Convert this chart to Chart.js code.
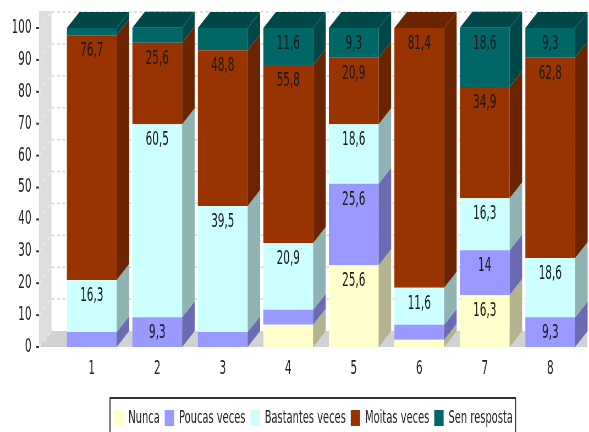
<!DOCTYPE html>
<html>
<head>
<meta charset="utf-8">
<style>
  html, body { margin: 0; padding: 0; background: #fff; overflow: hidden; }
  canvas { display: block; }
</style>
<script src="https://cdn.jsdelivr.net/npm/chart.js@4"></script>
</head>
<body>
<canvas id="chart" width="1071" height="432" style="width:589px;height:432px"></canvas>
<script>
const categories = ["1", "2", "3", "4", "5", "6", "7", "8"];
const nunca = [0, 0, 0, 7, 25.6, 2.3, 16.3, 0];
const poucasVeces = [4.7, 9.3, 4.7, 4.7, 25.6, 4.7, 14, 9.3];
const bastantesVeces = [16.3, 60.5, 39.5, 20.9, 18.6, 11.6, 16.3, 18.6];
const moitasVeces = [76.7, 25.6, 48.8, 55.8, 20.9, 81.4, 34.9, 62.8];
const senResposta = [2.3, 4.7, 7, 11.6, 9.3, 0, 18.6, 9.3];

// the original picture is squeezed sideways, so the canvas is wider than the page
const SX = 1071 / 589;
const DEPTH_X = 12.5 * SX;
const DEPTH_Y = 16;
const MIN_LABEL = 9;
const LEGEND_PAD = 9;
const FONT = "'DejaVu Sans', sans-serif";

function series(label, data, color, side) {
  return { label, data, backgroundColor: color, sideColor: side, borderWidth: 0, clip: false };
}

const box3d = {
  id: "box3d",
  afterLayout(chart) {
    // legend sits right of centre in the reference and runs off the bottom
    chart.legend.left = 114 * SX - LEGEND_PAD;
    chart.legend.top = 409 - LEGEND_PAD;
  },
  beforeDatasetsDraw(chart) {
    const { ctx, chartArea, scales } = chart;
    const left = chartArea.left - 20 * SX;
    const right = chartArea.right + 4 * SX;
    const bottom = scales.y.getPixelForValue(0);
    const top = scales.y.getPixelForValue(100);
    ctx.save();
    // left wall is a plain strip, the floor overlaps its foot
    ctx.fillStyle = "#dddddd";
    ctx.fillRect(left, top - DEPTH_Y - 1, DEPTH_X, bottom - top + DEPTH_Y + 1);
    // floor
    ctx.fillStyle = "#d2d2d2";
    ctx.beginPath();
    ctx.moveTo(left, bottom);
    ctx.lineTo(left + DEPTH_X, bottom - DEPTH_Y);
    ctx.lineTo(right, bottom - DEPTH_Y);
    ctx.lineTo(right, bottom);
    ctx.closePath();
    ctx.fill();
    // dotted grid on the back and left walls, tick marks on the axis
    for (let v = 0; v <= 100; v += 10) {
      const y = scales.y.getPixelForValue(v);
      ctx.strokeStyle = "#d4d4d4";
      ctx.lineWidth = 1.5;
      ctx.setLineDash([5, 5]);
      if (v > 0) {
        ctx.beginPath();
        ctx.moveTo(left + DEPTH_X, y - DEPTH_Y);
        ctx.lineTo(right, y - DEPTH_Y);
        ctx.stroke();
      }
      ctx.strokeStyle = "#eeeeee";
      ctx.beginPath();
      ctx.moveTo(left, y);
      ctx.lineTo(left + DEPTH_X, y - DEPTH_Y);
      ctx.stroke();
      ctx.setLineDash([]);
      ctx.strokeStyle = "#333333";
      ctx.lineWidth = 2;
      ctx.beginPath();
      ctx.moveTo(left - 5, y);
      ctx.lineTo(left, y);
      ctx.stroke();
    }
    ctx.restore();
  },
  afterDatasetsDraw(chart) {
    const { ctx } = chart;
    ctx.save();
    chart.data.datasets.forEach((ds, i) => {
      chart.getDatasetMeta(i).data.forEach((bar, j) => {
        if (!ds.data[j]) return;
        const x1 = bar.x + bar.width / 2;
        const x0 = bar.x - bar.width / 2;
        ctx.fillStyle = ds.sideColor;
        ctx.beginPath();
        ctx.moveTo(x1, bar.base);
        ctx.lineTo(x1 + DEPTH_X, bar.base - DEPTH_Y);
        ctx.lineTo(x1 + DEPTH_X, bar.y - DEPTH_Y);
        ctx.lineTo(x1, bar.y);
        ctx.closePath();
        ctx.fill();
        // top face only on the last segment of the stack
        const above = chart.data.datasets.slice(i + 1).some((d) => d.data[j]);
        if (!above) {
          ctx.beginPath();
          ctx.moveTo(x0, bar.y);
          ctx.lineTo(x0 + DEPTH_X, bar.y - DEPTH_Y);
          ctx.lineTo(x1 + DEPTH_X, bar.y - DEPTH_Y);
          ctx.lineTo(x1, bar.y);
          ctx.closePath();
          ctx.fill();
        }
        if (ds.data[j] >= MIN_LABEL) {
          ctx.fillStyle = "#1a1a1a";
          ctx.font = "19px " + FONT;
          ctx.textAlign = "center";
          ctx.textBaseline = "middle";
          ctx.fillText(String(ds.data[j]).replace(".", ","), bar.x, bar.y + 16);
        }
      });
    });
    ctx.restore();
  },
  afterDraw(chart) {
    const { ctx } = chart;
    ctx.save();
    ctx.strokeStyle = "#333333";
    ctx.lineWidth = 2;
    ctx.beginPath();
    ctx.moveTo(110 * SX, 440);
    ctx.lineTo(110 * SX, 398);
    ctx.lineTo(515.5 * SX, 398);
    ctx.lineTo(515.5 * SX, 440);
    ctx.stroke();
    ctx.restore();
  },
};

new Chart(document.getElementById("chart").getContext("2d"), {
  type: "bar",
  data: {
    labels: categories,
    datasets: [
      series("Nunca", nunca, "#ffffcc", "#b3b38f"),
      series("Poucas veces", poucasVeces, "#9999ff", "#6b6bb3"),
      series("Bastantes veces", bastantesVeces, "#ccffff", "#8fb3b3"),
      series("Moitas veces", moitasVeces, "#993300", "#6b2400"),
      series("Sen resposta", senResposta, "#006666", "#004848"),
    ],
  },
  options: {
    responsive: false,
    animation: false,
    layout: { padding: { left: 24, right: 6 * SX, top: 28 } },
    datasets: { bar: { barPercentage: 0.76, categoryPercentage: 1 } },
    scales: {
      x: {
        stacked: true,
        grid: { display: false },
        border: { display: false },
        ticks: { color: "#222", padding: 3, font: { family: FONT, size: 19 } },
        afterFit(scale) { scale.height = 48; },
      },
      y: {
        stacked: true,
        min: 0,
        max: 100,
        grid: { display: false },
        border: { display: false },
        ticks: { stepSize: 10, color: "#222", padding: 42, font: { family: FONT, size: 19 } },
        afterFit(scale) {
          // big tick padding otherwise leaks into the space above the plot
          scale.width = 59 * SX - 24;
          scale.paddingTop = 0;
          scale.paddingBottom = 0;
        },
      },
    },
    plugins: {
      tooltip: { enabled: false },
      legend: {
        position: "bottom",
        align: "start",
        labels: {
          boxWidth: 17,
          boxHeight: 16,
          padding: LEGEND_PAD,
          color: "#222",
          font: { family: FONT, size: 18 },
        },
      },
    },
  },
  plugins: [box3d],
});
</script>
</body>
</html>
